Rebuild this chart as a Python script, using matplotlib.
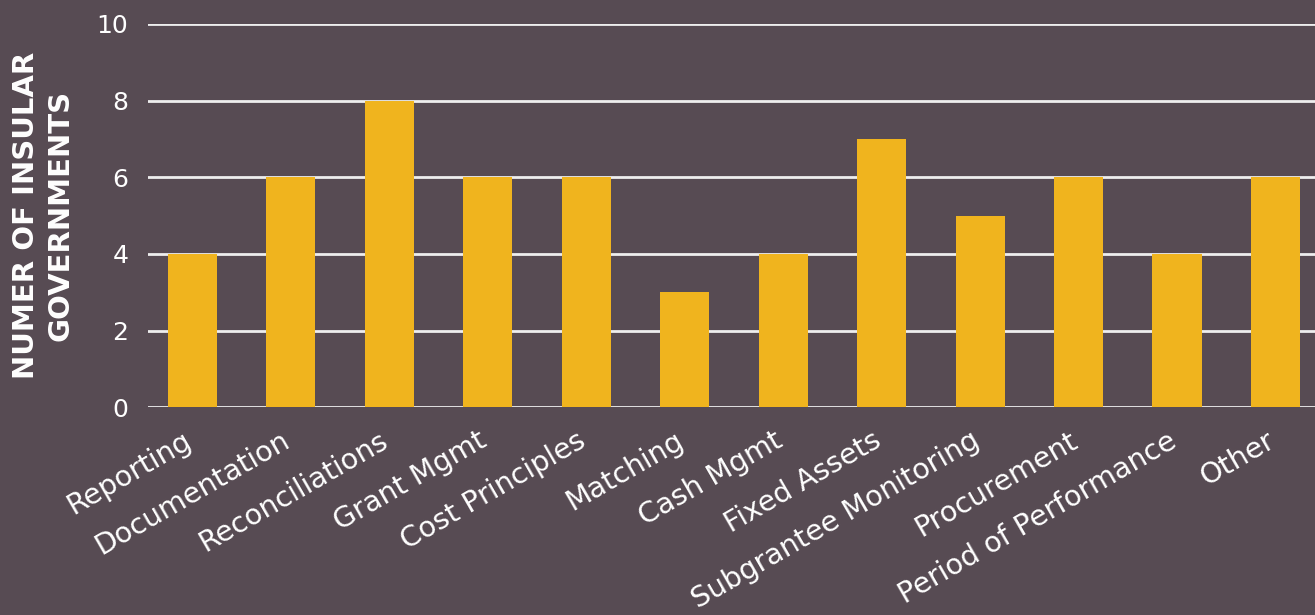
import matplotlib
matplotlib.use("Agg")
import matplotlib.pyplot as plt
from matplotlib.transforms import ScaledTranslation

categories = ["Reporting", "Documentation", "Reconciliations", "Grant Mgmt", "Cost Principles",
              "Matching", "Cash Mgmt", "Fixed Assets", "Subgrantee Monitoring", "Procurement",
              "Period of Performance", "Other"]
values = [4, 6, 8, 6, 6, 3, 4, 7, 5, 6, 4, 6]
yticks = [0, 2, 4, 6, 8, 10]
ylabel = "NUMER OF INSULAR\nGOVERNMENTS"

BG = "#574b53"
BAR = "#f0b41e"

fig = plt.figure(figsize=(13.15, 6.15), dpi=100, facecolor=BG)
ax = fig.add_axes([0.1125, 0.338, 0.8875, 0.623])
ax.set_facecolor(BG)

x = list(range(len(categories)))
ax.set_axisbelow(True)
ax.yaxis.grid(True, color="#eeeeee", linewidth=2)
ax.bar(x, values, width=0.5, color=BAR, zorder=3)

ax.set_xlim(-0.45, 11.4)
ax.set_ylim(0, 10)
ax.set_yticks(yticks)
ax.set_yticklabels([str(v) for v in yticks], color="white", fontsize=18)
ax.set_xticks(x)
ax.set_xticklabels(categories, rotation=30, ha="right", rotation_mode="anchor",
                   color="white", fontsize=20.5)
ax.tick_params(axis="x", length=0, pad=14)
ax.tick_params(axis="y", length=0, pad=14)
offset = ScaledTranslation(-10 / 100, 0, fig.dpi_scale_trans)
for lbl in ax.get_xticklabels():
    lbl.set_transform(lbl.get_transform() + offset)
for s in ax.spines.values():
    s.set_visible(False)

ax.set_ylabel(ylabel, color="white", fontsize=21, fontweight="bold", labelpad=16,
              linespacing=1.3)

fig.savefig("out.png", dpi=100, facecolor=BG)
